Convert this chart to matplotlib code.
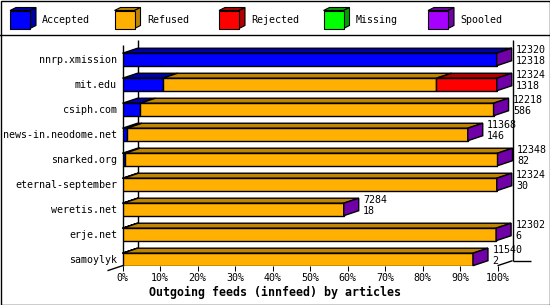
import matplotlib
matplotlib.use("Agg")
import matplotlib.pyplot as plt
from matplotlib.patches import Polygon, Rectangle
import numpy as np

# ---- data ----
hosts = ['nnrp.xmission', 'mit.edu', 'csiph.com', 'news-in.neodome.net',
         'snarked.org', 'eternal-september', 'weretis.net', 'erje.net', 'samoylyk']
offered = [12320, 12324, 12218, 11368, 12348, 12324, 7284, 12302, 11540]
accepted = [12318, 1318, 586, 146, 82, 30, 18, 6, 2]
rejected = [2, 1986, 0, 0, 0, 0, 0, 0, 0]
missing = [0, 0, 0, 0, 0, 0, 0, 0, 0]
spooled = [0, 0, 0, 0, 0, 0, 0, 0, 0]
refused = [o - a - r - m - s for o, a, r, m, s in zip(offered, accepted, rejected, missing, spooled)]

series_names = ['Accepted', 'Refused', 'Rejected', 'Missing', 'Spooled']
front_colors = ['#0000FF', '#FFB000', '#FF0000', '#00FF00', '#A800FF']
dark_colors = ['#0000A8', '#BF8400', '#B00000', '#00A000', '#7000A8']
xticks = list(range(0, 101, 10))
xticklabels = [f'{t}%' for t in xticks]
title = 'Outgoing feeds (innfeed) by articles'

MONO = 'DejaVu Sans Mono'
W, H = 550, 305
fig = plt.figure(figsize=(W / 100, H / 100), dpi=100)

# overlay axes in pixel coords for frame and legend
axf = fig.add_axes([0, 0, 1, 1])
axf.set_xlim(0, W)
axf.set_ylim(H, 0)
axf.axis('off')
axf.add_patch(Rectangle((0.5, 0.5), W - 1, H - 1, fill=False, ec='black', lw=1.0))
axf.plot([0, W], [35, 35], color='black', lw=1.0)

# legend cubes
for k, (name, fc, dc) in enumerate(zip(series_names, front_colors, dark_colors)):
    x0 = 10 + 104.5 * k
    y0, y1 = 10.5, 28.5
    x1 = x0 + 20
    dx, dy = 6, -3
    axf.add_patch(Polygon([(x0, y0), (x1, y0), (x1 + dx, y0 + dy), (x0 + dx, y0 + dy)],
                          closed=True, fc=dc, ec='black', lw=0.8))
    axf.add_patch(Polygon([(x1, y0), (x1 + dx, y0 + dy), (x1 + dx, y1 + dy), (x1, y1)],
                          closed=True, fc=dc, ec='black', lw=0.8))
    axf.add_patch(Rectangle((x0, y0), 20, y1 - y0, fc=fc, ec='black', lw=0.8))
    axf.text(x0 + 32.3, 20, name, family=MONO, fontsize=7.2, va='center', ha='left')

# main chart axes
left_px, right_px = 122.5, 497.5
top_px, floor_px = 47.0, 265.7
ax = fig.add_axes([left_px / W, (H - floor_px) / H, (right_px - left_px) / W, (floor_px - top_px) / H])
ax.set_xlim(0, 100)
ax.set_ylim(8.25, -0.5)
ax.patch.set_alpha(0)
for sp in ax.spines.values():
    sp.set_visible(False)

total_max = max(offered)
DX = 15 / ((right_px - left_px) / 100)   # depth in x data units
DY = -5 / 25.0                              # depth in row units
BH = 0.5

# frame lines
lk = dict(color='black', lw=1.0, zorder=0, clip_on=False, solid_capstyle='butt')
ax.plot([0, 0], [-0.58, 8.25], **lk)
ax.plot([DX, DX], [-0.78, 8.25 + DY], **lk)
ax.plot([100 + DX, 100 + DX], [-0.78, 8.25 + DY], **lk)
ax.plot([-DX, DX], [8.25 - DY, 8.25 + DY], **lk)
ax.plot([100, 100 + DX], [8.25, 8.25 + DY], **lk)
ax.plot([100 + DX, 109], [8.25 + DY, 8.25 + DY], **lk)

seg_data = [accepted, refused, rejected, missing]
for i, host in enumerate(hosts):
    yc = i
    ytop = yc - BH / 2
    ybot = yc + BH / 2
    start = 0.0
    for s, vals in enumerate(seg_data):
        w = vals[i] / total_max * 100
        if w <= 0:
            continue
        ax.barh(yc, w, left=start, height=BH, color=front_colors[s], edgecolor='black',
                linewidth=1.0, zorder=3)
        ax.add_patch(Polygon([(start, ytop), (start + w, ytop), (start + w + DX, ytop + DY),
                              (start + DX, ytop + DY)], closed=True, fc=dark_colors[s],
                             ec='black', lw=1.0, zorder=2, clip_on=False))
        start += w
    end = offered[i] / total_max * 100
    ax.add_patch(Polygon([(end, ytop), (end + DX, ytop + DY), (end + DX, ybot + DY), (end, ybot)],
                         closed=True, fc=dark_colors[4], ec='black', lw=1.0, zorder=4, clip_on=False))
    ax.text(end + DX + 1.2, yc - 0.39, str(offered[i]), family=MONO, fontsize=7.2,
            ha='left', va='center', clip_on=False)
    ax.text(end + DX + 1.2, yc + 0.06, str(accepted[i]), family=MONO, fontsize=7.2,
            ha='left', va='center', clip_on=False)

ax.set_yticks(range(len(hosts)))
ax.set_yticklabels(hosts, family=MONO, fontsize=7.2)
ax.tick_params(axis='y', length=0, pad=4)
ax.set_xticks(xticks)
ax.set_xticklabels(xticklabels, family=MONO, fontsize=7.2)
ax.tick_params(axis='x', length=3.5, width=0.75, pad=1.5, direction='out')

fig.text(274.7 / W, 1 - 292.3 / H, title, family=MONO, fontsize=8.4, fontweight='bold',
         ha='center', va='center')

fig.savefig('out.png', dpi=100)
